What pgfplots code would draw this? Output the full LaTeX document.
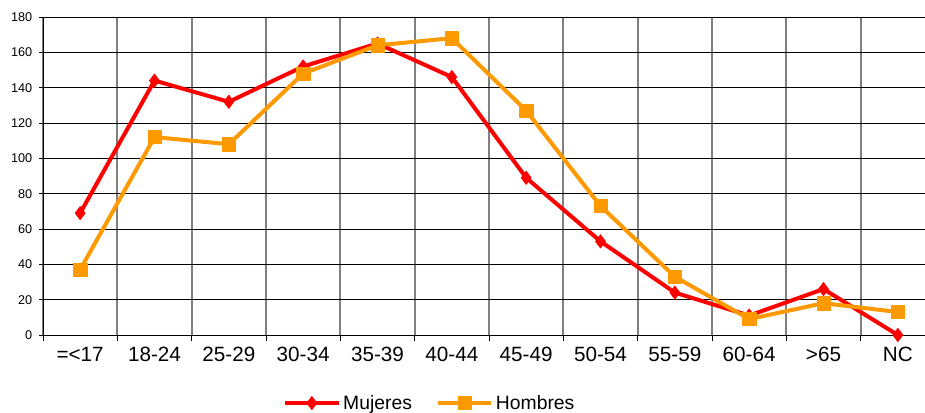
\documentclass[border=0pt]{standalone}
\usepackage{fontspec}
\setmainfont{Liberation Sans}
\usepackage{pgfplots}
\pgfplotsset{compat=1.18}
\definecolor{mred}{HTML}{FF0000}
\definecolor{horange}{HTML}{FF9900}
\definecolor{gridgray}{HTML}{808080}
\begin{document}
\begin{tikzpicture}
\path[use as bounding box] (0,0) rectangle (693.75pt,309pt);
\clip (0,0) rectangle (693.75pt,309pt);
\begin{axis}[
  at={(32.25pt,57.75pt)}, anchor=south west,
  width=669pt, height=238.5pt, scale only axis,
  xmin=-0.5, xmax=11.5, ymin=0, ymax=180,
  xtick={0,...,11},
  xticklabels={=<17,18-24,25-29,30-34,35-39,40-44,45-49,50-54,55-59,60-64,>65,NC},
  minor xtick={-0.5,0.5,...,11.5},
  ytick={0,20,...,160},
  extra y ticks={180},
  extra y tick style={grid style={gridgray, line width=1.5pt}},
  ymajorgrids, xminorgrids,
  major grid style={black, line width=0.75pt},
  minor grid style={gridgray, line width=1.5pt},
  axis x line*=bottom, axis y line*=left,
  axis line style={black, line width=0.75pt, -},
  tick align=outside,
  major tick length=3pt, minor tick length=4.5pt,
  major x tick style={draw=none},
  tick style={black, line width=0.75pt},
  /pgf/number format/assume math mode=true,
  yticklabel style={font=\fontsize{9.5}{11}\selectfont, xshift=-1.5pt},
  xticklabel style={font=\fontsize{15.5}{18}\selectfont, yshift=-2.5pt},
  clip=false,
  legend style={at={(0.434,-0.214)}, anchor=center, draw=none, fill=none,
    legend columns=2, font=\fontsize{14.5}{17}\selectfont,
    /tikz/every even column/.append style={column sep=16pt}},
  legend cell align=left,
  legend image code/.code={\draw[mark repeat=2,mark phase=2,#1] plot coordinates {(0pt,0pt) (20pt,0pt) (40pt,0pt)};},
]
\addplot[mred, line width=3pt, line join=round, mark=diamond*, mark size=5pt, mark options={solid, line width=0.5pt, fill=mred}]
coordinates {(0,69) (1,144) (2,132) (3,152) (4,165) (5,146) (6,89) (7,53) (8,24) (9,11) (10,26) (11,0)};
\addlegendentry{Mujeres}
\addplot[horange, line width=3pt, line join=round, mark=square*, mark size=5pt, mark options={solid, line width=0.5pt, fill=horange}]
coordinates {(0,37) (1,112) (2,108) (3,148) (4,164) (5,168) (6,127) (7,73) (8,33) (9,9) (10,18) (11,13)};
\addlegendentry{Hombres}
\end{axis}
\end{tikzpicture}
\end{document}
